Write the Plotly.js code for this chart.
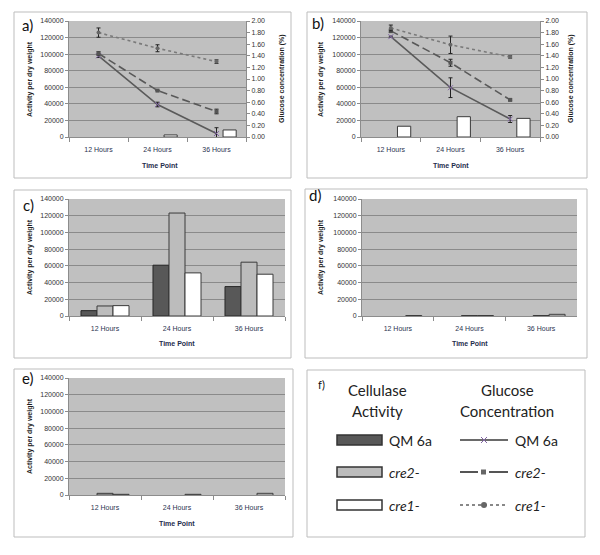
<!DOCTYPE html>
<html>
<head>
<meta charset="utf-8">
<script src="https://cdn.plot.ly/plotly-3.0.1.min.js"></script>
<style>
body{margin:0;background:#fff}
#chart{width:600px;height:555px}
</style>
</head>
<body>
<div id="chart"></div>
<script>
// shared categories
const timePoints=['12 Hours','24 Hours','36 Hours']
const strains=['QM 6a','cre2-','cre1-']

// a) activity bars + glucose lines (null = no bar drawn)
const aActQM6a=[null,null,null]
const aActCre2=[null,null,null]
const aActCre1=[null,2500,8500]
const aGluQM6a=[1.40,0.56,0.06]
const aGluQM6aErr=[0.03,0.04,0.10]
const aGluCre2=[1.44,0.80,0.44]
const aGluCre2Err=[0.03,0.005,0.04]
const aGluCre1=[1.80,1.53,1.30]
const aGluCre1Err=[0.08,0.06,0.03]

// b)
const bActQM6a=[null,null,null]
const bActCre2=[null,null,null]
const bActCre1=[13000,24500,22500]
const bGluQM6a=[1.73,0.85,0.31]
const bGluQM6aErr=[0.01,0.17,0.06]
const bGluCre2=[1.83,1.28,0.64]
const bGluCre2Err=[0.03,0.06,0.015]
const bGluCre1=[1.88,1.59,1.38]
const bGluCre1Err=[0.05,0.15,0.02]

// c) d) e) activity only
const cActQM6a=[6400,60800,35200]
const cActCre2=[12000,123200,64400]
const cActCre1=[12400,51600,50000]
const dActQM6a=[null,null,null]
const dActCre2=[null,600,600]
const dActCre1=[600,600,2000]
const eActQM6a=[null,null,null]
const eActCre2=[2000,null,null]
const eActCre1=[800,800,2000]

// px -> paper
const X=p=>p/600
const Y=p=>1-p/555

const barStyle=[
    {color:'#585858',line:{color:'#262626',width:1}},
    {color:'#bcbcbc',line:{color:'#3a3a3a',width:1}},
    {color:'#ffffff',line:{color:'#3a3a3a',width:1}}
]
const lineStyle=[
    {line:{color:'#5a5a5a',width:1.6,dash:'solid'},marker:{symbol:'x-thin',size:5,color:'#8064a2',line:{color:'#8064a2',width:1}}},
    {line:{color:'#595959',width:1.6,dash:'8px,4px'},marker:{symbol:'square',size:4,color:'#555'}},
    {line:{color:'#7a7a7a',width:1.6,dash:'dot'},marker:{symbol:'circle',size:4,color:'#666'}}
]

let bars=(xa,ya,vals)=>vals.map((v,i)=>({
    type:'bar',x:timePoints,y:v,xaxis:xa,yaxis:ya,name:strains[i],
    marker:barStyle[i],showlegend:false,hoverinfo:'skip'
}))
let lines=(xa,ya,vals,errs)=>vals.map((v,i)=>({
    type:'scatter',mode:'lines+markers',x:timePoints,y:v,xaxis:xa,yaxis:ya,name:strains[i],
    line:lineStyle[i].line,marker:lineStyle[i].marker,showlegend:false,hoverinfo:'skip',
    error_y:{type:'data',array:errs[i],visible:true,color:'#222',thickness:1,width:2}
}))

let data=[]
data=data.concat(bars('x','y',[aActQM6a,aActCre2,aActCre1]))
data=data.concat(lines('x','y2',[aGluQM6a,aGluCre2,aGluCre1],[aGluQM6aErr,aGluCre2Err,aGluCre1Err]))
data=data.concat(bars('x2','y3',[bActQM6a,bActCre2,bActCre1]))
data=data.concat(lines('x2','y4',[bGluQM6a,bGluCre2,bGluCre1],[bGluQM6aErr,bGluCre2Err,bGluCre1Err]))
data=data.concat(bars('x3','y5',[cActQM6a,cActCre2,cActCre1]))
data=data.concat(bars('x4','y6',[dActQM6a,dActCre2,dActCre1]))
data=data.concat(bars('x5','y7',[eActQM6a,eActCre2,eActCre1]))

const tickFont={family:'Liberation Sans, Arial',size:7,color:'#333'}
let catAxis=(l,r,anchor)=>({
    domain:[X(l),X(r)],anchor:anchor,type:'category',range:[-0.5,2.5],
    showline:true,linecolor:'#8c8c8c',ticks:'outside',tickson:'boundaries',ticklen:4,
    tickcolor:'#8c8c8c',showgrid:false,zeroline:false,ticklabelstandoff:6,
    tickfont:{family:'Liberation Sans, Arial',size:7,color:'#2b3350'},fixedrange:true
})
let actAxis=(t,b,anchor)=>({
    domain:[Y(b),Y(t)],anchor:anchor,range:[0,140000],tick0:0,dtick:20000,tickformat:'d',
    showgrid:true,gridcolor:'#8a8a8a',gridwidth:1,showline:true,linecolor:'#8c8c8c',
    ticks:'outside',ticklen:3,tickcolor:'#8c8c8c',zeroline:false,tickfont:tickFont,fixedrange:true
})
let gluAxis=(t,b,anchor,over)=>({
    domain:[Y(b),Y(t)],anchor:anchor,overlaying:over,side:'right',range:[0,2],tick0:0,dtick:0.2,
    tickformat:'.2f',showgrid:false,showline:true,linecolor:'#8c8c8c',ticks:'outside',ticklen:3,
    tickcolor:'#8c8c8c',zeroline:false,tickfont:tickFont,fixedrange:true
})

// panel frames
const frames=[[14,12,291,178],[307,12,587,178],[14,190,291,358],[305,189,587,358],[14,369,293,537],[307,370,585,537]]
let shapes=frames.map(f=>({type:'rect',xref:'paper',yref:'paper',x0:X(f[0]),x1:X(f[2]),y0:Y(f[3]),y1:Y(f[1]),line:{color:'#bdbdbd',width:1},layer:'below'}))

let annotations=[]
let txt=(x,y,text,opt={})=>{
    annotations.push(Object.assign({xref:'paper',yref:'paper',x:X(x),y:Y(y),text:text,showarrow:false,
        xanchor:'center',yanchor:'middle',font:{family:'Liberation Sans, Arial',size:7,color:'#222'}},opt))
}
const labFont={family:'Lato, Open Sans',size:15,color:'#111'}
// panel letters
;[['a)',27,25],['b)',318,23],['c)',28,205],['d)',315,195],['e)',28,378]].forEach(p=>txt(p[1],p[2],p[0],{font:labFont}))
// axis titles
const bold={family:'Liberation Sans, Arial',size:7,color:'#1e1e1e'}
const navy={family:'Liberation Sans, Arial',size:7,color:'#1f2d4d'}
;[[30,79],[321,79],[30,257],[321,257],[30,436]].forEach(p=>txt(p[0],p[1],'<b>Activity per dry weight</b>',{textangle:-90,font:bold}))
;[[282,79],[571,79]].forEach(p=>txt(p[0],p[1],'<b>Glucose concentration (%)</b>',{textangle:-90,font:bold}))
;[[160,165],[451,165],[177,343],[470,343],[177,523]].forEach(p=>txt(p[0],p[1],'<b>Time Point</b>',{font:navy}))

// f) legend panel
txt(321,384,'f)',{font:{family:'Lato, Open Sans',size:11,color:'#111'}})
const fHead={family:'Lato, Open Sans',size:15,color:'#222'}
txt(377,390,'Cellulase',{font:fHead})
txt(377,411,'Activity',{font:fHead})
txt(507,390,'Glucose',{font:fHead})
txt(507,411,'Concentration',{font:fHead})
const fLab={family:'Lato, Open Sans',size:14,color:'#222'}
const rowsY=[440,472,505]
const labels=['QM 6a','<i>cre2-</i>','<i>cre1-</i>']
rowsY.forEach((y,i)=>{
    shapes.push({type:'rect',xref:'paper',yref:'paper',x0:X(337),x1:X(382),y0:Y(y+5),y1:Y(y-5),
        fillcolor:barStyle[i].color,line:{color:'#333',width:1.5}})
    txt(387,y,labels[i],{xanchor:'left',font:fLab})
    txt(513,y,labels[i],{xanchor:'left',font:fLab})
})
// legend line swatches
shapes.push({type:'line',xref:'paper',yref:'paper',x0:X(460),x1:X(508),y0:Y(440),y1:Y(440),line:{color:'#6a6a6a',width:2}})
shapes.push({type:'line',xref:'paper',yref:'paper',x0:X(481),x1:X(487),y0:Y(437),y1:Y(443),line:{color:'#8064a2',width:1}})
shapes.push({type:'line',xref:'paper',yref:'paper',x0:X(481),x1:X(487),y0:Y(443),y1:Y(437),line:{color:'#8064a2',width:1}})
shapes.push({type:'line',xref:'paper',yref:'paper',x0:X(460),x1:X(478),y0:Y(472),y1:Y(472),line:{color:'#555',width:2}})
shapes.push({type:'line',xref:'paper',yref:'paper',x0:X(489),x1:X(508),y0:Y(472),y1:Y(472),line:{color:'#555',width:2}})
shapes.push({type:'rect',xref:'paper',yref:'paper',x0:X(481),x1:X(486),y0:Y(474.5),y1:Y(469.5),fillcolor:'#666',line:{width:0}})
shapes.push({type:'line',xref:'paper',yref:'paper',x0:X(460),x1:X(508),y0:Y(505),y1:Y(505),line:{color:'#888',width:2,dash:'dot'}})
shapes.push({type:'circle',xref:'paper',yref:'paper',x0:X(481),x1:X(487),y0:Y(508),y1:Y(502),fillcolor:'#666',line:{width:0}})

const layout={
    width:600,height:555,margin:{l:0,r:0,t:0,b:0},
    paper_bgcolor:'#fff',plot_bgcolor:'#c0c0c0',
    barmode:'group',bargap:0.333,bargroupgap:0,showlegend:false,
    xaxis:catAxis(69,246,'y'),
    yaxis:actAxis(21,137,'x'),
    yaxis2:gluAxis(21,137,'x','y'),
    xaxis2:catAxis(361,540,'y3'),
    yaxis3:actAxis(21,137,'x2'),
    yaxis4:gluAxis(21,137,'x2','y3'),
    xaxis3:catAxis(69,285,'y5'),
    yaxis5:actAxis(199,316,'x3'),
    xaxis4:catAxis(362,577,'y6'),
    yaxis6:actAxis(199,316,'x4'),
    xaxis5:catAxis(69,285,'y7'),
    yaxis7:actAxis(378,495,'x5'),
    shapes:shapes,annotations:annotations
}

Plotly.newPlot('chart',data,layout,{staticPlot:true,displayModeBar:false})
</script>
</body>
</html>
